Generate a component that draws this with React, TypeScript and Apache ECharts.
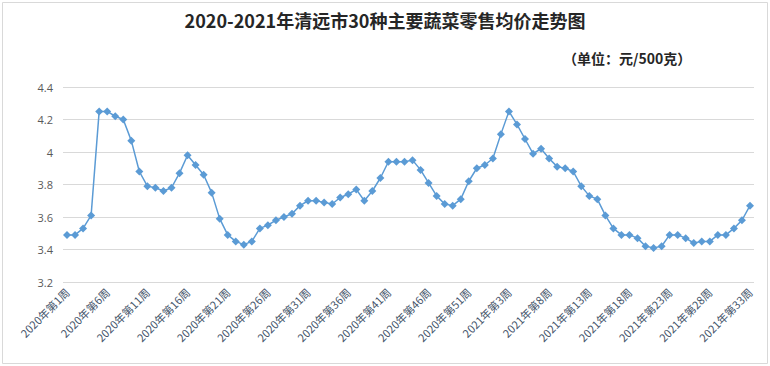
import React, { useEffect, useRef } from "react";
import * as echarts from "echarts";

const values2020: number[] = [
  3.49, 3.49, 3.53, 3.61, 4.25, 4.25, 4.22, 4.2, 4.07, 3.88,
  3.79, 3.78, 3.76, 3.78, 3.87, 3.98, 3.92, 3.86, 3.75, 3.59,
  3.49, 3.45, 3.43, 3.45, 3.53, 3.55, 3.58, 3.6, 3.62, 3.67,
  3.7, 3.7, 3.69, 3.68, 3.72, 3.74, 3.77, 3.7, 3.76, 3.84,
  3.94, 3.94, 3.94, 3.95, 3.89, 3.81, 3.73, 3.68, 3.67, 3.71,
  3.82, 3.9, 3.92,
];
const values2021: number[] = [
  3.96, 4.11, 4.25, 4.17, 4.08, 3.99, 4.02, 3.96, 3.91, 3.9,
  3.88, 3.79, 3.73, 3.71, 3.61, 3.53, 3.49, 3.49, 3.47, 3.42,
  3.41, 3.42, 3.49, 3.49, 3.47, 3.44, 3.45, 3.45, 3.49, 3.49,
  3.53, 3.58, 3.67,
];
const categories2020: string[] = values2020.map((_, i) => `2020年第${i + 1}周`);
const categories2021: string[] = values2021.map((_, i) => `2021年第${i + 1}周`);
const categories: string[] = [...categories2020, ...categories2021];
const values: number[] = [...values2020, ...values2021];
const yTicks = { min: 3.2, max: 4.4, interval: 0.2 };

const titleText = "2020-2021年清远市30种主要蔬菜零售均价走势图";
const unitText = "（单位：元/500克）";

export default function App() {
  const ref = useRef<HTMLDivElement>(null);
  useEffect(() => {
    if (!ref.current) return;
    const chart = echarts.init(ref.current, null, { renderer: "svg" });
    chart.setOption({
      animation: false,
      backgroundColor: "#ffffff",
      title: [
        {
          text: titleText,
          left: "center",
          top: 6,
          textStyle: {
            fontFamily: "Noto Sans CJK SC",
            fontSize: 18,
            fontWeight: "bold",
            color: "#262626",
          },
        },
        {
          text: unitText,
          left: 558,
          top: 46,
          textStyle: {
            fontFamily: "Noto Sans CJK SC",
            fontSize: 14,
            fontWeight: "bold",
            color: "#262626",
          },
        },
      ],
      graphic: [
        {
          type: "rect",
          shape: { x: 2.5, y: 2.5, width: 765, height: 361 },
          style: { fill: "none", stroke: "#d9d9d9", lineWidth: 1 },
          silent: true,
        },
      ],
      grid: { left: 63, right: 16, top: 87, bottom: 84 },
      xAxis: {
        type: "category",
        data: categories,
        boundaryGap: true,
        axisLine: { show: false },
        axisTick: { show: false },
        axisLabel: {
          interval: 4,
          rotate: 45,
          fontSize: 11,
          color: "#44546a",
          fontFamily: "Noto Sans CJK SC",
          margin: 8,
        },
        splitLine: { show: false },
      },
      yAxis: {
        type: "value",
        min: yTicks.min,
        max: yTicks.max,
        interval: yTicks.interval,
        axisLine: { show: false },
        axisTick: { show: false },
        axisLabel: {
          fontSize: 11,
          color: "#595959",
          fontFamily: "Open Sans",
          margin: 10,
          formatter: (v: number) => String(Math.round(v * 10) / 10),
        },
        splitLine: { lineStyle: { color: "#d9d9d9", width: 1 } },
      },
      series: [
        {
          type: "line",
          data: values,
          symbol: "diamond",
          symbolSize: 8,
          showAllSymbol: true,
          itemStyle: { color: "#5b9bd5" },
          lineStyle: { color: "#5b9bd5", width: 1.5 },
        },
      ],
    });
    return () => chart.dispose();
  }, []);
  return (
    <div
      ref={ref}
      style={{ position: "fixed", left: 0, top: 0, width: 770, height: 366 }}
    />
  );
}
